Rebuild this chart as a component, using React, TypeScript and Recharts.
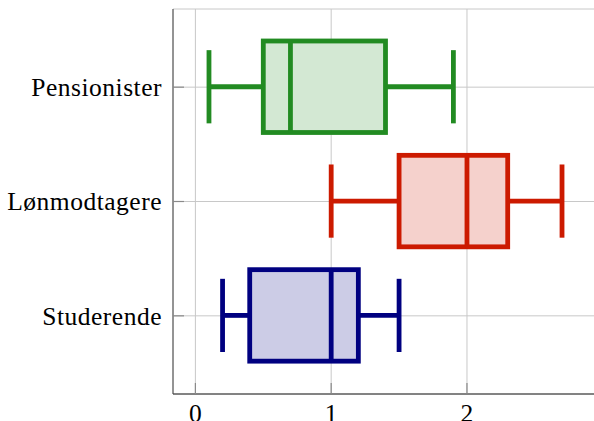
import React from 'react';
import { ComposedChart, Bar, XAxis, YAxis, CartesianGrid } from 'recharts';

const categories = ['Pensionister', 'Lønmodtagere', 'Studerende'];
const mins = [0.1, 1.0, 0.2];
const q1s = [0.5, 1.5, 0.4];
const medians = [0.7, 2.0, 1.0];
const q3s = [1.4, 2.3, 1.2];
const maxs = [1.9, 2.7, 1.5];
const strokeColors = ['#228b22', '#cc1a00', '#000080'];
const fillColors = ['#d3e8d3', '#f5d1cc', '#ccccE6'];
const xTicks = [0, 1, 2];

const data = categories.map((name, i) => ({
  name,
  min: mins[i],
  q1: q1s[i],
  median: medians[i],
  q3: q3s[i],
  max: maxs[i],
  stroke: strokeColors[i],
  fill: fillColors[i],
}));

const FONT = '"Liberation Serif", "Times New Roman", serif';
const TICK_COLOR = '#8a8a8a';
const TICK_LEN = 11;
const SW = 4.8;

const BoxShape = (props: any) => {
  const { x, y, width, height } = props;
  const p = props.payload || props;
  const unit = width / (p.q3 - p.q1);
  const cy = y + height / 2;
  const xMin = x - (p.q1 - p.min) * unit;
  const xMax = x + width + (p.max - p.q3) * unit;
  const xMed = x + (p.median - p.q1) * unit;
  const cap = height * 0.4;
  return (
    <g>
      <line x1={xMin} x2={x} y1={cy} y2={cy} stroke={p.stroke} strokeWidth={SW} />
      <line x1={x + width} x2={xMax} y1={cy} y2={cy} stroke={p.stroke} strokeWidth={SW} />
      <line x1={xMin} x2={xMin} y1={cy - cap} y2={cy + cap} stroke={p.stroke} strokeWidth={SW} />
      <line x1={xMax} x2={xMax} y1={cy - cap} y2={cy + cap} stroke={p.stroke} strokeWidth={SW} />
      <rect x={x} y={y} width={width} height={height} fill={p.fill} stroke={p.stroke} strokeWidth={SW} />
      <line x1={xMed} x2={xMed} y1={y} y2={y + height} stroke={p.stroke} strokeWidth={SW} />
    </g>
  );
};

const BottomTick = (props: any) => {
  const { x, y, payload } = props;
  return (
    <g>
      <line x1={x} x2={x} y1={y} y2={y - TICK_LEN} stroke={TICK_COLOR} strokeWidth={1.2} />
      <text x={x} y={y + 10} dy="0.71em" textAnchor="middle" fontFamily={FONT} fontSize={25.5} fill="#000">
        {payload.value}
      </text>
    </g>
  );
};

const TopTick = (props: any) => {
  const { x, y } = props;
  return <line x1={x} x2={x} y1={y} y2={y + TICK_LEN} stroke={TICK_COLOR} strokeWidth={1.2} />;
};

const LeftTick = (props: any) => {
  const { x, y, payload } = props;
  return (
    <g>
      <line x1={x} x2={x + TICK_LEN} y1={y} y2={y} stroke={TICK_COLOR} strokeWidth={1.2} />
      <text x={x - 11} y={y} dy="0.34em" textAnchor="end" fontFamily={FONT} fontSize={25.5} letterSpacing={0.5} fill="#000">
        {payload.value}
      </text>
    </g>
  );
};

const RightTick = (props: any) => {
  const { x, y } = props;
  return <line x1={x} x2={x - TICK_LEN} y1={y} y2={y} stroke={TICK_COLOR} strokeWidth={1.2} />;
};

export default function App() {
  return (
    <div style={{ position: 'absolute', left: 0, top: 0, width: 594, height: 421, overflow: 'hidden', background: '#fff' }}>
      <ComposedChart
        width={600}
        height={421}
        data={data}
        layout="vertical"
        margin={{ top: 9, right: 2, bottom: 0, left: 0 }}
      >
        <CartesianGrid xAxisId="b" yAxisId="l" stroke="#c8c8c8" strokeWidth={1} />
        <XAxis
          xAxisId="b"
          type="number"
          orientation="bottom"
          domain={[-0.165, 2.965]}
          ticks={xTicks}
          allowDataOverflow
          interval={0}
          height={27}
          stroke="#222"
          tickSize={0}
          tickMargin={0}
          tickLine={false}
          tick={<BottomTick />}
        />
        <XAxis
          xAxisId="t"
          type="number"
          orientation="top"
          domain={[-0.165, 2.965]}
          ticks={xTicks}
          allowDataOverflow
          interval={0}
          height={0}
          stroke="#222"
          tickSize={0}
          tickMargin={0}
          tickLine={false}
          tick={<TopTick />}
        />
        <YAxis
          yAxisId="l"
          type="category"
          dataKey="name"
          orientation="left"
          width={173}
          padding={{ top: 21, bottom: 21 }}
          interval={0}
          stroke="#444"
          tickSize={0}
          tickMargin={0}
          tickLine={false}
          tick={<LeftTick />}
        />
        <YAxis
          yAxisId="r"
          type="category"
          dataKey="name"
          orientation="right"
          width={0}
          padding={{ top: 21, bottom: 21 }}
          interval={0}
          stroke="#444"
          tickSize={0}
          tickMargin={0}
          tickLine={false}
          tick={<RightTick />}
        />
        <Bar
          xAxisId="b"
          yAxisId="l"
          dataKey={(d: any) => [d.q1, d.q3]}
          barSize={91.5}
          shape={BoxShape}
          isAnimationActive={false}
        />
      </ComposedChart>
    </div>
  );
}
